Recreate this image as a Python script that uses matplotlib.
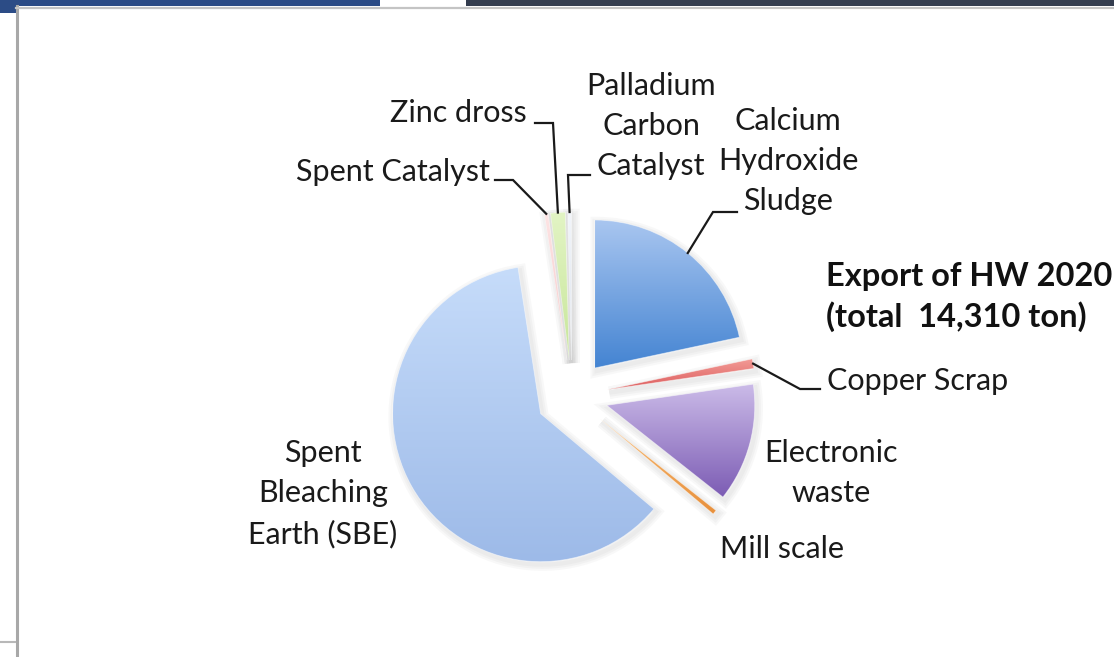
import numpy as np
import matplotlib
matplotlib.use('Agg')
import matplotlib.pyplot as plt
from matplotlib.patches import Rectangle, Wedge
from matplotlib.colors import LinearSegmentedColormap

# data (tons, total 14,310)
categories = ['Calcium Hydroxide Sludge', 'Copper Scrap', 'Electronic waste', 'Mill scale',
              'Spent Bleaching Earth (SBE)', 'Spent Catalyst', 'Zinc dross',
              'Palladium Carbon Catalyst']
tons = [3100, 150, 1850, 70, 8790, 60, 230, 60]
label_text = ['Calcium\nHydroxide\nSludge', 'Copper Scrap', 'Electronic\nwaste', 'Mill scale',
              'Spent\nBleaching\nEarth (SBE)', 'Spent Catalyst', 'Zinc dross',
              'Palladium\nCarbon\nCatalyst']
title_text = 'Export of HW 2020\n(total  14,310 ton)'

# gradient colours (top, bottom) per slice
grad = [('#a9c6f0', '#4484d2'), ('#f29a96', '#dc5c5c'), ('#cbbbe8', '#7c5cb4'),
        ('#f6b870', '#e8903c'), ('#c6dcfa', '#9dbae8'), ('#fde4e4', '#f6c8c8'),
        ('#e2f4c4', '#c8e69a'), ('#f2f5fa', '#dde4ee')]

W, H = 1114, 657
def sy(y):  # screen y -> data y
    return H - y

plt.rcParams['font.family'] = ['Lato', 'DejaVu Sans']
fig = plt.figure(figsize=(W / 100, H / 100), dpi=100)
ax = fig.add_axes([0, 0, 1, 1])

# window chrome around the chart
ax.add_patch(Rectangle((0, sy(6)), 380, 6, color='#2c4c86', lw=0))
ax.add_patch(Rectangle((466, sy(6)), W - 466, 6, color='#333c4e', lw=0))
ax.add_patch(Rectangle((0, sy(13)), 16, 7, color='#2c4c86', lw=0))
ax.plot([16.5, 16.5], [sy(6), 0], color='#a8a8a8', lw=2.2)
ax.plot([16, W], [sy(7.5), sy(7.5)], color='#c4c4c4', lw=1.6)
ax.plot([0, 15], [sy(642), sy(642)], color='#b8b8b8', lw=1.5)

R = 148
wedges, _ = ax.pie(tons, startangle=90, counterclock=False, radius=R,
                   center=(572, sy(396)), explode=[36] * len(tons),
                   wedgeprops=dict(facecolor='none', edgecolor='none'), frame=True)

# soft shadows
for w in wedges:
    for lw in [9, 6, 3]:
        sh = Wedge((w.center[0] + 2, w.center[1] - 3), w.r, w.theta1, w.theta2,
                   facecolor='none', edgecolor='#808080', lw=lw, alpha=0.05, zorder=1)
        ax.add_patch(sh)

# gradient fills clipped to each wedge
for w, (c0, c1) in zip(wedges, grad):
    x0, y0, x1, y1 = w.get_path().get_extents().extents
    cmap = LinearSegmentedColormap.from_list('g', [c1, c0])
    img = ax.imshow(np.linspace(0, 1, 256).reshape(-1, 1), cmap=cmap, origin='lower',
                    extent=[x0, x1, y0, y1], aspect='auto', zorder=2, interpolation='bilinear')
    img.set_clip_path(w)
    ax.add_patch(Wedge(w.center, w.r, w.theta1, w.theta2, facecolor='none',
                       edgecolor='white', lw=0.6, alpha=0.5, zorder=3))
ax.set_xlim(0, W)
ax.set_ylim(0, H)
ax.set_aspect('equal')
ax.axis('off')

def anchor(w):
    tm = np.deg2rad((w.theta1 + w.theta2) / 2)
    return w.center[0] + w.r * np.cos(tm), w.center[1] + w.r * np.sin(tm)

fs = 22
txt = dict(fontsize=fs, color='#1a1a1a', linespacing=1.53, va='center')
# label positions (screen coords)
ax.text(788, sy(161), label_text[0], ha='center', **txt)
ax.text(827, sy(381), label_text[1], ha='left', **txt)
ax.text(831, sy(473), label_text[2], ha='center', **txt)
ax.text(720, sy(549), label_text[3], ha='left', **txt)
ax.text(323, sy(494), label_text[4], ha='center', **txt)
ax.text(490, sy(172), label_text[5], ha='right', **txt)
ax.text(527, sy(113), label_text[6], ha='right', **txt)
ax.text(651, sy(126), label_text[7], ha='center', **txt)
ax.text(826, sy(297), title_text, ha='left', va='center', fontsize=23.5,
        fontweight='bold', color='#111111', linespacing=1.42)

# leader line elbows (screen coords)
leaders = {0: [(713, 212), (737, 212)],
           1: [(800, 389), (820, 389)],
           5: [(513, 180), (495, 180)],
           6: [(553, 123), (535, 123)],
           7: [(568, 175), (590, 175)]}
for i, pts in leaders.items():
    ax_, ay_ = anchor(wedges[i])
    xs = [ax_] + [p[0] for p in pts]
    ys = [ay_] + [sy(p[1]) for p in pts]
    ax.plot(xs, ys, color='#1a1a1a', lw=1.6, zorder=4, solid_joinstyle='miter')

fig.savefig('out.png', dpi=100, facecolor='white')
